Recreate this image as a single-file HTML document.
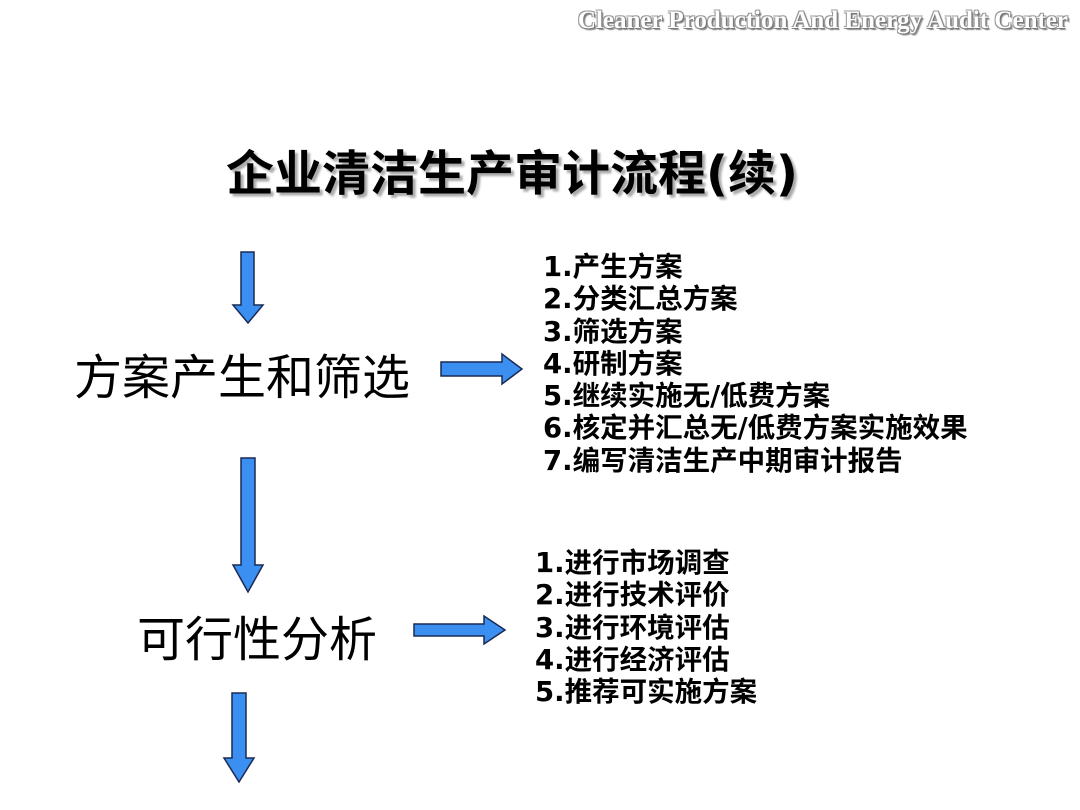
<!DOCTYPE html>
<html><head><meta charset="utf-8"><style>
body{margin:0;width:1080px;height:810px;background:#fff;position:relative;overflow:hidden;font-family:"Liberation Sans","Noto Sans CJK SC",sans-serif}
.a{position:absolute;white-space:nowrap}
.hdr{right:12px;top:7px;font-family:"Liberation Serif",serif;font-size:25px;font-weight:bold;color:#fff;text-shadow:1px 1px 0 #777,-1px -1px 0 #999,1px -1px 0 #999,-1px 1px 0 #999,2px 2px 1px #888}
.title{left:226px;top:134px;font-size:48px;font-weight:bold;font-family:"DejaVu Sans","Noto Sans CJK SC",sans-serif;text-shadow:3px 3px 2px #aaa}
.big{font-size:48px}
.list{font-size:27.5px;font-weight:bold;line-height:32.3px;font-family:"DejaVu Sans","Noto Sans CJK SC",sans-serif}
</style></head><body>
<div class="a hdr">Cleaner Production And Energy Audit Center</div>
<div class="a title">企业清洁生产审计流程(续)</div>
<div class="a big" style="left:74px;top:338px">方案产生和筛选</div>
<div class="a big" style="left:137px;top:600px">可行性分析</div>
<div class="a list" style="left:543px;top:251px">1.产生方案<br>2.分类汇总方案<br>3.筛选方案<br>4.研制方案<br>5.继续实施无/低费方案<br>6.核定并汇总无/低费方案实施效果<br>7.编写清洁生产中期审计报告</div>
<div class="a list" style="left:535px;top:547px">1.进行市场调查<br>2.进行技术评价<br>3.进行环境评估<br>4.进行经济评估<br>5.推荐可实施方案</div>
<svg class="a" style="left:0;top:0" width="1080" height="810">
<g fill="#3b8ff0" stroke="#1a2a55" stroke-width="1.5">
<polygon points="241,252 254,252 254,305 263,305 248,323 233,305 241,305"/>
<polygon points="241,458 255,458 255,565 263,565 248,592 233,565 241,565"/>
<polygon points="232,693 246,693 246,758 254,758 239,782 224,758 232,758"/>
<polygon points="441,362 502,362 502,354 522,369 502,384 502,376 441,376"/>
<polygon points="414,624 484,624 484,616 505,630 484,644 484,636 414,636"/>
</g></svg>
</body></html>
